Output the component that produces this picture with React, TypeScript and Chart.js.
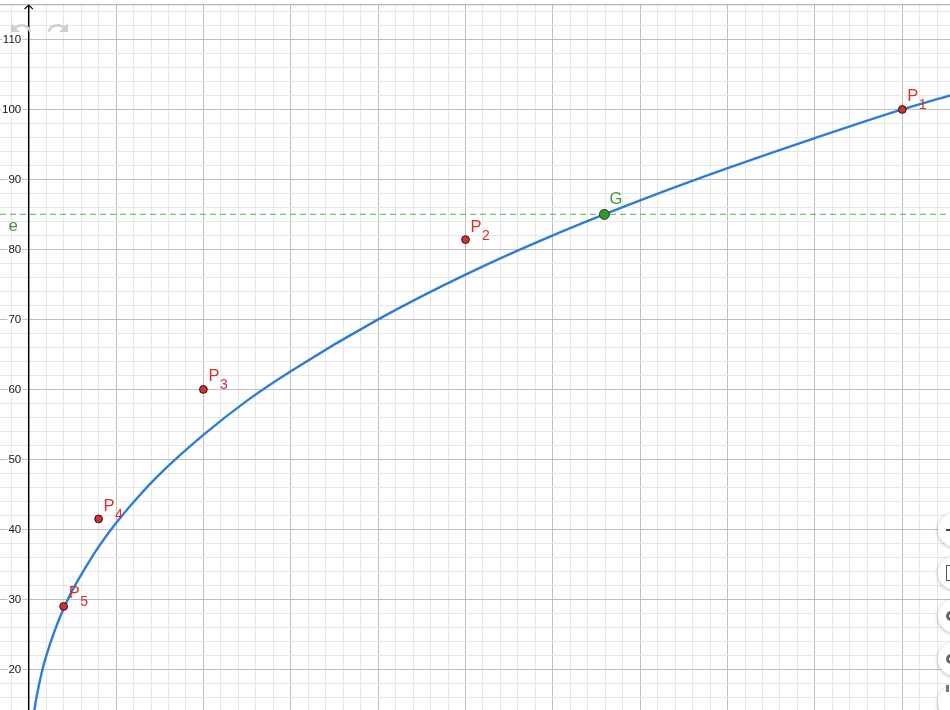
import React, { useEffect, useRef } from "react";
import { Chart, registerables } from "chart.js";

Chart.register(...registerables);

// ---- view window (graphics view of the reference) ----
const X_MIN = -0.3285;
const X_MAX = 10.546;
const Y_MIN = 14.2;
const Y_MAX = 115.63;

// ---- fitted curve ----
const CURVE_X = [0.05, 0.07, 0.1, 0.15, 0.2, 0.3, 0.4, 0.5, 0.6, 0.8, 1, 1.25, 1.5, 2, 2.5, 3, 4, 5, 6, 7, 8, 9, 10, 10.6];
const CURVE_Y = [12.8, 14.6, 16.7, 19.6, 21.9, 25.6, 28.7, 31.3, 33.5, 37.5, 40.9, 44.6, 47.9, 53.5, 58.4, 62.6, 70.0, 76.4, 82.0, 87.0, 91.6, 95.9, 100.0, 102.2];

// ---- measured points P1..P5 ----
const POINT_SUBS = ["1", "2", "3", "4", "5"];
const POINT_X = [10, 5, 2, 0.8, 0.4];
const POINT_Y = [100, 81.4, 60, 41.5, 29];

// ---- intersection G and horizontal line e ----
const G_NAME = "G";
const G_X = [6.59];
const G_Y = [85];
const E_NAME = "e";
const E_Y = 85;

// ---- axis labels / grid ----
const Y_TICK_LABELS = [20, 30, 40, 50, 60, 70, 80, 90, 100, 110];
const X_GRID_STEP = 0.2;
const X_MAJOR_STEP = 1;
const Y_GRID_STEP = 2;
const Y_MAJOR_STEP = 10;

const FONT = '"Liberation Sans", Arial, Helvetica, sans-serif';
const RED = "#d3312f";
const GREEN_TEXT = "#3a9a33";

function gridTicks(min: number, max: number, step: number) {
  const out: { value: number }[] = [];
  const start = Math.ceil(min / step);
  const end = Math.floor(max / step);
  for (let i = start; i <= end; i++) out.push({ value: +(i * step).toFixed(6) });
  return out;
}
function isMajor(v: number, major: number) {
  return Math.abs(v / major - Math.round(v / major)) < 1e-6;
}

const overlayPlugin = {
  id: "ggbOverlay",
  beforeDraw(chart: any) {
    const { ctx, width, height } = chart;
    ctx.save();
    ctx.fillStyle = "#ffffff";
    ctx.fillRect(0, 0, width, height);
    ctx.restore();
  },
  beforeDatasetsDraw(chart: any) {
    const { ctx, scales, chartArea } = chart;
    const xs = scales.x;
    const ys = scales.y;
    const ax = xs.getPixelForValue(0);
    ctx.save();
    // y axis line
    ctx.strokeStyle = "#000000";
    ctx.lineWidth = 1.5;
    ctx.beginPath();
    ctx.moveTo(ax, 5);
    ctx.lineTo(ax, chartArea.bottom);
    ctx.stroke();
    // arrow head
    ctx.lineWidth = 1.2;
    ctx.beginPath();
    ctx.moveTo(ax - 4.2, 9.2);
    ctx.lineTo(ax, 5);
    ctx.lineTo(ax + 4.2, 9.2);
    ctx.stroke();
    // tick labels
    ctx.font = `11.5px ${FONT}`;
    ctx.textAlign = "right";
    ctx.textBaseline = "middle";
    Y_TICK_LABELS.forEach((v) => {
      const py = ys.getPixelForValue(v);
      const txt = String(v);
      const w = ctx.measureText(txt).width;
      const right = ax - 7.5;
      ctx.fillStyle = "#ffffff";
      ctx.fillRect(right - w - 1, py - 5.5, w + 2, 11);
      ctx.fillStyle = "#111111";
      ctx.fillText(txt, right, py + 0.5);
    });
    ctx.restore();
  },
  afterDatasetsDraw(chart: any) {
    const { ctx, scales } = chart;
    const ys = scales.y;
    ctx.save();
    ctx.textAlign = "left";
    ctx.textBaseline = "alphabetic";
    // P labels
    const metaP = chart.getDatasetMeta(0);
    metaP.data.forEach((el: any, i: number) => {
      const px = el.x;
      const py = el.y;
      ctx.fillStyle = RED;
      ctx.font = `16.5px ${FONT}`;
      ctx.fillText("P", px + 5, py - 8);
      const w = ctx.measureText("P").width;
      ctx.font = `14px ${FONT}`;
      ctx.fillText(POINT_SUBS[i], px + 5.5 + w, py);
    });
    // G label
    const metaG = chart.getDatasetMeta(1);
    metaG.data.forEach((el: any) => {
      ctx.fillStyle = GREEN_TEXT;
      ctx.font = `16.5px ${FONT}`;
      ctx.fillText(G_NAME, el.x + 5, el.y - 10);
    });
    // e label
    ctx.fillStyle = GREEN_TEXT;
    ctx.font = `17px ${FONT}`;
    ctx.fillText(E_NAME, 8.5, ys.getPixelForValue(E_Y) + 16.5);
    ctx.restore();
  },
  afterDraw(chart: any) {
    const { ctx, width } = chart;
    ctx.save();
    ctx.fillStyle = "#ffffff";
    ctx.fillRect(0, 0, width, 4);
    ctx.strokeStyle = "#b3b3b3";
    ctx.lineWidth = 1;
    ctx.beginPath();
    ctx.moveTo(0, 4.5);
    ctx.lineTo(width, 4.5);
    ctx.stroke();
    ctx.strokeStyle = "rgba(0,0,0,0.07)";
    ctx.beginPath();
    ctx.moveTo(0, 5.5);
    ctx.lineTo(width, 5.5);
    ctx.stroke();
    ctx.restore();
  },
};

function ChartView() {
  const ref = useRef<HTMLCanvasElement | null>(null);
  useEffect(() => {
    if (!ref.current) return;
    const chart = new Chart(ref.current, {
      type: "scatter",
      data: {
        datasets: [
          {
            label: "P",
            data: POINT_X.map((x, i) => ({ x, y: POINT_Y[i] })),
            pointRadius: 3.9,
            pointHoverRadius: 3.9,
            backgroundColor: RED,
            borderColor: "#2b1515",
            borderWidth: 1,
            order: 0,
          },
          {
            label: G_NAME,
            data: G_X.map((x, i) => ({ x, y: G_Y[i] })),
            pointRadius: 5,
            pointHoverRadius: 5,
            backgroundColor: "#2f9a2f",
            borderColor: "#1d3d1d",
            borderWidth: 1,
            order: 1,
          },
          {
            label: "f",
            data: CURVE_X.map((x, i) => ({ x, y: CURVE_Y[i] })),
            showLine: true,
            pointRadius: 0,
            pointHoverRadius: 0,
            borderColor: "#2b7dd6",
            backgroundColor: "#2b7dd6",
            borderWidth: 2.4,
            cubicInterpolationMode: "monotone",
            fill: false,
            order: 2,
          },
          {
            label: E_NAME,
            data: [
              { x: X_MIN, y: E_Y },
              { x: X_MAX, y: E_Y },
            ],
            showLine: true,
            pointRadius: 0,
            pointHoverRadius: 0,
            borderColor: "#6fc06f",
            borderWidth: 1.1,
            borderDash: [6, 4],
            fill: false,
            order: 3,
          },
        ],
      },
      options: {
        animation: false,
        responsive: false,
        maintainAspectRatio: false,
        events: [],
        layout: { padding: 0, autoPadding: false },
        plugins: {
          legend: { display: false },
          tooltip: { enabled: false },
          title: { display: false },
        },
        scales: {
          x: {
            type: "linear",
            min: X_MIN,
            max: X_MAX,
            ticks: { display: false, autoSkip: false },
            border: { display: false },
            grid: {
              drawTicks: false,
              lineWidth: 1,
              color: (c: any) =>
                c.tick && isMajor(c.tick.value, X_MAJOR_STEP) ? "#bfbfbf" : "#e6e6e6",
            },
            afterBuildTicks: (s: any) => {
              s.ticks = gridTicks(X_MIN, X_MAX, X_GRID_STEP);
            },
          },
          y: {
            type: "linear",
            min: Y_MIN,
            max: Y_MAX,
            ticks: { display: false, autoSkip: false },
            border: { display: false },
            grid: {
              drawTicks: false,
              lineWidth: 1,
              color: (c: any) =>
                c.tick && isMajor(c.tick.value, Y_MAJOR_STEP) ? "#bfbfbf" : "#e6e6e6",
            },
            afterBuildTicks: (s: any) => {
              s.ticks = gridTicks(Y_MIN, Y_MAX, Y_GRID_STEP);
            },
          },
        },
      } as any,
      plugins: [overlayPlugin],
    });
    return () => chart.destroy();
  }, []);
  return <canvas ref={ref} width={950} height={710} style={{ display: "block", width: 950, height: 710 }} />;
}

const BUTTON_CENTERS = [530, 573, 616, 659, 702];

export default function App() {
  return (
    <div
      style={{
        position: "fixed",
        left: 0,
        top: 0,
        width: 950,
        height: 710,
        overflow: "hidden",
        background: "#fff",
      }}
    >
      <ChartView />
      {/* undo / redo icons */}
      <svg width={24} height={24} viewBox="0 0 24 24" style={{ position: "absolute", left: 9, top: 16 }}>
        <path
          fill="#cfcfcf"
          d="M12.5 8c-2.65 0-5.05.99-6.9 2.6L2 7v9h9l-3.62-3.62c1.39-1.16 3.16-1.88 5.12-1.88 3.54 0 6.55 2.31 7.6 5.5l2.37-.78C21.08 11.03 17.150 8 12.5 8z"
        />
      </svg>
      <svg width={24} height={24} viewBox="0 0 24 24" style={{ position: "absolute", left: 45.5, top: 16 }}>
        <path
          fill="#cfcfcf"
          d="M18.4 10.6C16.55 8.99 14.15 8 11.5 8c-4.65 0-8.58 3.03-9.96 7.22L3.9 16c1.05-3.19 4.05-5.5 7.6-5.5 1.95 0 3.73.72 5.12 1.88L13 16h9V7l-3.6 3.6z"
        />
      </svg>
      {/* side buttons (mostly off-screen) */}
      {BUTTON_CENTERS.map((cy, i) => (
        <div
          key={i}
          style={{
            position: "absolute",
            left: 938,
            top: cy - 17,
            width: 34,
            height: 34,
            borderRadius: "50%",
            background: "#fff",
            boxShadow: "0 1px 4px rgba(0,0,0,0.28)",
          }}
        >
          {i === 0 && (
            <div style={{ position: "absolute", left: 8, top: 16, width: 4, height: 1.5, background: "#444" }} />
          )}
          {i === 1 && (
            <div
              style={{
                position: "absolute",
                left: 8,
                top: 9,
                width: 12,
                height: 16,
                border: "1.5px solid #555",
                boxSizing: "border-box",
              }}
            />
          )}
          {(i === 2 || i === 3) && (
            <div
              style={{
                position: "absolute",
                left: 8,
                top: 12,
                width: 10,
                height: 10,
                borderRadius: "50%",
                border: "3px solid #666",
                boxSizing: "border-box",
              }}
            />
          )}
          {i === 4 && (
            <div style={{ position: "absolute", left: 8, top: 0, width: 3, height: 7, background: "#777" }} />
          )}
        </div>
      ))}
    </div>
  );
}
